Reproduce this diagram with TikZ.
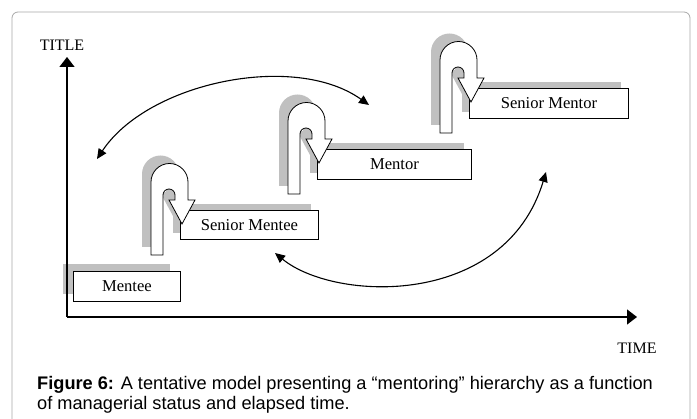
\documentclass[tikz,border=0pt]{standalone}
\usepackage{fontspec}
\setmainfont{Liberation Serif}
\newfontfamily\capfont{Liberation Sans}
\usetikzlibrary{arrows.meta}
\definecolor{shadowgray}{HTML}{C0C0C0}
\definecolor{framegray}{HTML}{A8A8A8}
\tikzset{
  labelbox/.style={draw=black, fill=white, line width=0.9pt, inner sep=0pt, anchor=north west,
    font=\fontsize{16.6}{18}\selectfont},
  shadowbox/.style={fill=shadowgray},
  hookp/.style={insert path={(0,0) -- (0,-73)
      .. controls (0,-83.2) and (8.3,-91.5) .. (18.5,-91.5)
      .. controls (28.7,-91.5) and (37,-83.2) .. (37,-73)
      -- (37,-55) -- (44,-55) -- (31,-31) -- (18,-55) -- (24,-55) -- (24,-60)
      .. controls (24,-63.3) and (21.3,-66) .. (18,-66)
      .. controls (14.7,-66) and (12,-63.3) .. (12,-60) -- (12,0) -- cycle}},
  hookbody/.style={draw=black, fill=white, line width=0.8pt, line join=miter},
  hookshadow/.style={fill=shadowgray},
  axisline/.style={line width=1.3pt, -{Triangle[length=10pt,width=15pt]}},
  curvearrow/.style={line width=1.1pt, {Triangle[length=10pt,width=9pt]}-{Triangle[length=10pt,width=9pt]}},
  axislabel/.style={font=\fontsize{16}{18}\selectfont, inner sep=0pt}
}
\begin{document}
\begin{tikzpicture}[x=1pt, y=-1pt]
\useasboundingbox (0,0) rectangle (697,419);
% frame
\draw[framegray, line width=0.8pt, rounded corners=6pt] (12,12) rectangle (690,440);

% box shadows
\fill[shadowbox] (63,264) rectangle (170,294);
\fill[shadowbox] (173,204) rectangle (311,233);
\fill[shadowbox] (310,143) rectangle (464,173);
\fill[shadowbox] (462,82) rectangle (621,112);

% hook shadows
\fill[hookshadow, shift={(142,247)}, hookp];
\fill[hookshadow, shift={(279,186)}, hookp];
\fill[hookshadow, shift={(431,125)}, hookp];

% axes
\coordinate (origin) at (67,317);
\coordinate (ytip) at (67,57);
\coordinate (xtip) at (637,317);
\draw[axisline] (origin) -- (ytip);
\draw[axisline] (origin) -- (xtip);
\node[axislabel, anchor=base] (title) at (62,51) {TITLE};
\node[axislabel, anchor=base] (time) at (637,354) {TIME};

% boxes
\node[labelbox, minimum width=107pt, minimum height=30pt] (mentee) at (73,271) {Mentee};
\node[labelbox, minimum width=138pt, minimum height=29pt] (smentee) at (180,210) {Senior Mentee};
\node[labelbox, minimum width=154pt, minimum height=30pt] (mentor) at (317,149) {Mentor};
\node[labelbox, minimum width=159pt, minimum height=30pt] (smentor) at (469,88) {Senior Mentor};

% hooks
\filldraw[hookbody, shift={(151,255)}, hookp];
\filldraw[hookbody, shift={(288,194)}, hookp];
\filldraw[hookbody, shift={(440,133)}, hookp];

% curved double arrows
\coordinate (a1s) at (97,159);
\coordinate (a1e) at (369,105);
\draw[curvearrow] (a1s) .. controls (148,82) and (295,52) .. (a1e);
\coordinate (a2s) at (275,253);
\coordinate (a2e) at (546,172);
\draw[curvearrow] (a2s) .. controls (335,302) and (505,308) .. (a2e);

% caption
\node[anchor=base west, inner sep=0pt, align=left,
  font=\capfont\fontsize{18.2}{20}\selectfont] (caption) at (37,410)
  {\textbf{Figure 6:} A tentative model presenting a “mentoring” hierarchy as a function\\
   of managerial status and elapsed time.};
\end{tikzpicture}
\end{document}
